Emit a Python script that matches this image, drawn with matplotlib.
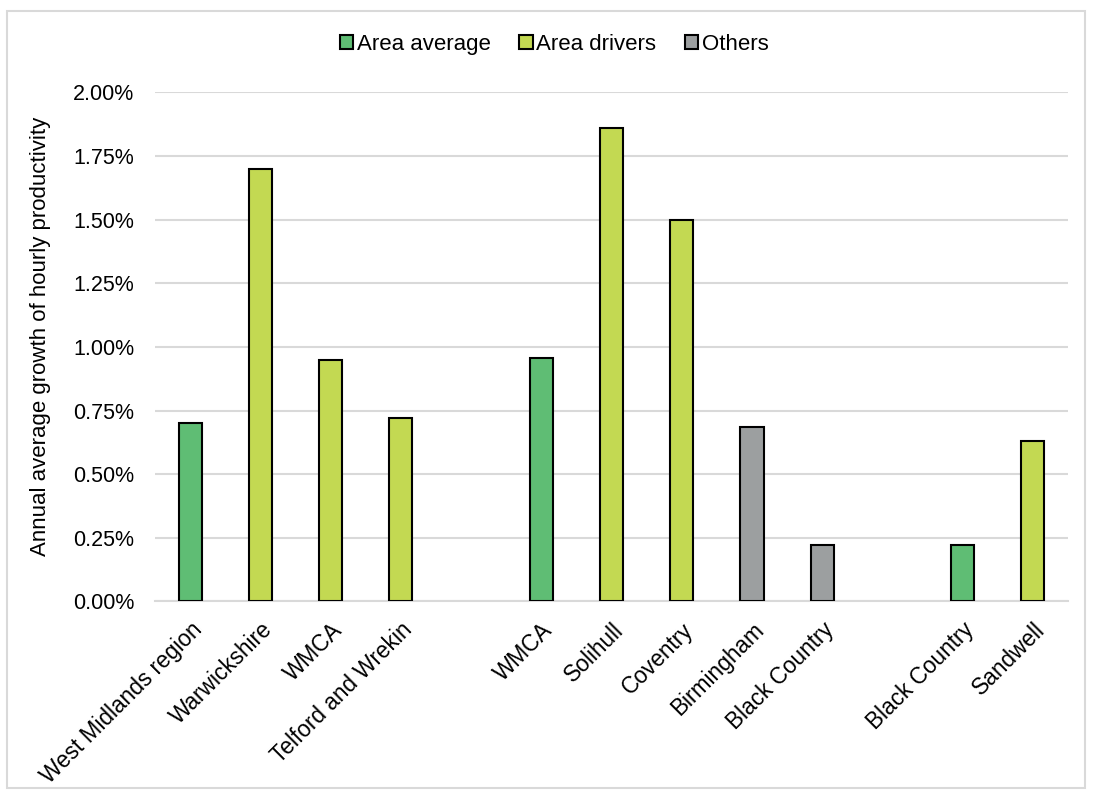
import matplotlib.pyplot as plt
import matplotlib.patches as mpatches
from matplotlib.ticker import PercentFormatter

# Productivity growth by area, grouped (blank entries separate the groups)
areas = [
    "West Midlands region", "Warwickshire", "WMCA", "Telford and Wrekin", "",
    "WMCA", "Solihull", "Coventry", "Birmingham", "Black Country", "",
    "Black Country", "Sandwell",
]
growth = [0.70, 1.70, 0.95, 0.72, None, 0.955, 1.86, 1.50, 0.685, 0.22, None, 0.22, 0.63]
kind = ["avg", "drv", "drv", "drv", None, "avg", "drv", "drv", "oth", "oth", None, "avg", "drv"]

colours = {"avg": "#5FBD74", "drv": "#C3D952", "oth": "#9C9FA0"}
names = {"avg": "Area average", "drv": "Area drivers", "oth": "Others"}

plt.rcParams["font.family"] = ["Liberation Sans", "DejaVu Sans"]

fig = plt.figure(figsize=(10.93, 7.93), dpi=100)
ax = fig.add_axes([0.1418, 0.2415, 0.9771 - 0.1418, 0.8836 - 0.2415])

for i, (v, k) in enumerate(zip(growth, kind)):
    if v is None:
        continue
    ax.bar(i, v, width=0.33, color=colours[k], edgecolor="black", linewidth=1.5, zorder=3)

ax.set_xlim(-0.5, len(areas) - 0.5)
ax.set_ylim(0, 2.0)
ax.set_yticks([0, 0.25, 0.5, 0.75, 1.0, 1.25, 1.5, 1.75, 2.0])
ax.yaxis.set_major_formatter(PercentFormatter(decimals=2))
ax.grid(axis="y", color="#D9D9D9", linewidth=1.5, zorder=0)
ax.set_axisbelow(True)

ticks = [i for i, a in enumerate(areas) if a]
ax.set_xticks(ticks)
ax.set_xticklabels([areas[i] for i in ticks], rotation=45, ha="right",
                   rotation_mode="anchor", fontsize=16.3)
ax.tick_params(axis="y", labelsize=15.5)
ax.tick_params(axis="both", length=0, colors="black")
ax.tick_params(axis="x", pad=12)
ax.tick_params(axis="y", pad=15)

for side in ["top", "right", "left"]:
    ax.spines[side].set_visible(False)
ax.spines["bottom"].set_color("#D9D9D9")
ax.spines["bottom"].set_linewidth(1.5)

ax.set_ylabel("Annual average growth of hourly productivity", fontsize=16)
ax.yaxis.set_label_coords(-0.114, 0.52)

handles = [mpatches.Patch(facecolor=colours[k], edgecolor="black", linewidth=1.5, label=names[k])
           for k in ["avg", "drv", "oth"]]
fig.legend(handles=handles, loc="center", bbox_to_anchor=(0.507, 0.944), ncol=3,
           frameon=False, fontsize=16, handlelength=0.6, handleheight=0.6,
           handletextpad=0.15, columnspacing=1.3)

# light outer frame around the chart area
fig.patches.append(mpatches.Rectangle((7 / 1093, 1 - 788 / 793), (1085 - 7) / 1093, (788 - 11) / 793,
                                      transform=fig.transFigure, fill=False,
                                      edgecolor="#D9D9D9", linewidth=1.5))

fig.savefig("out.png", dpi=100)
